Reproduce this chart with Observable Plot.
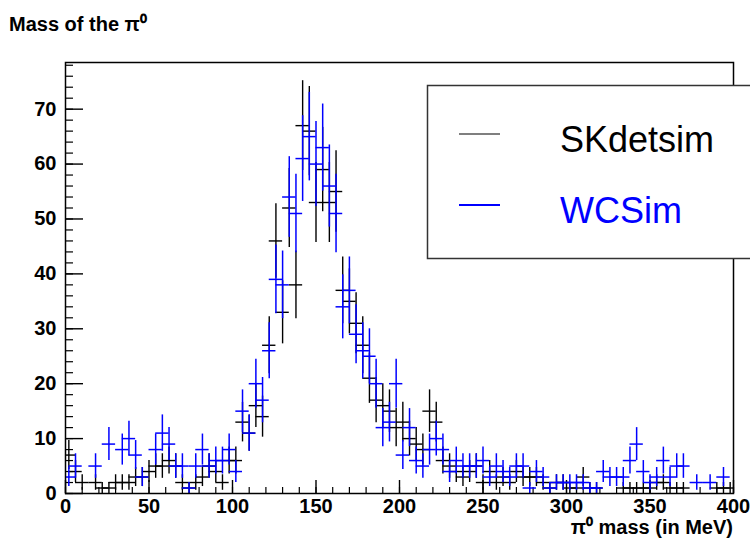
<!DOCTYPE html>
<html><head><meta charset="utf-8">
<script src="https://cdn.jsdelivr.net/npm/d3@7"></script>
<script src="https://cdn.jsdelivr.net/npm/@observablehq/plot@0.6"></script>
<style>body{margin:0;background:#fff;} svg{display:block}</style>
</head><body><div id="chart"></div>
<script>
// ---- data ----
const binWidth = 4;          // MeV per bin, 100 bins 0..400
const errX = 4;              // drawn horizontal error half-width (MeV)
const binLow = d3.range(0, 400, binWidth);
const skdetsim = [7,4,2,0,2,1,1,2,2,2, 3,3,4,5,5,6,5,2,1,2, 3,5,4,2,6,6,13,11,16,14,
  27,46,33,52,38,67,66,53,59,53, 55,37,35,31,27,21,17,16,15,12, 13,10,9,8,15,13,6,5,4,3,
  4,5,2,4,2,3,2,4,3,3, 3,2,1,2,2,1,1,3,1,1, 0,0,0,1,1,1,1,1,2,2, 1,1,1,0,0,0,0,1,1,1];
const wcsim = [3,5,0,0,5,0,9,0,8,10, 7,3,0,8,11,9,5,5,1,5, 8,5,6,6,8,4,15,11,20,17,
  26,39,38,54,51,61,65,60,63,56, 51,34,37,29,26,25,20,12,13,20, 7,12,6,5,8,10,8,4,6,5,
  5,5,6,3,5,4,3,5,5,1, 4,3,1,2,2,2,2,2,1,1, 4,3,3,3,6,9,4,2,3,6, 3,5,5,0,2,0,2,0,3,0];
const seriesNames = ["SKdetsim", "WCSim"];
const seriesColors = ["#000000", "#0000ff"];
const xTicks = [0, 50, 100, 150, 200, 250, 300, 350, 400];
const xMinor = d3.range(0, 401, 10);
const yTicks = [0, 10, 20, 30, 40, 50, 60, 70];
const yMinor = d3.range(0, 79, 2);
const titleText = "Mass of the π⁰";
const xTitle = "π⁰ mass (in MeV)";

function rows(vals) {
  return vals.map((v, i) => {
    const c = binLow[i] + binWidth / 2;
    return {x: c, x1: Math.max(0, c - errX), x2: Math.min(400, c + errX),
      y: v, y1: v - Math.sqrt(v), y2: v + Math.sqrt(v)};
  }).filter(d => d.y > 0);
}
const blackRows = rows(skdetsim), blueRows = rows(wcsim);

const W = 750, H = 541, mL = 65, mR = 17, mT = 62, mB = 48;
const pw = W - mL - mR, ph = H - mT - mB;

const chart = Plot.plot({
  width: W, height: H,
  marginLeft: mL, marginRight: mR, marginTop: mT, marginBottom: mB,
  x: {domain: [0, 400]},
  y: {domain: [0, 78.5]},
  style: {fontFamily: "'Liberation Sans', Arial, sans-serif", background: "white", fontWeight: "bold"},
  marks: [
    Plot.tickY(yMinor, {y: d => d, insetRight: pw - 8, stroke: "#000", strokeWidth: 1.2}),
    Plot.tickY(yTicks, {y: d => d, insetRight: pw - 18, stroke: "#000", strokeWidth: 1.4}),
    Plot.tickX(xMinor, {x: d => d, insetTop: ph - 6, stroke: "#000", strokeWidth: 1.2}),
    Plot.tickX(xTicks, {x: d => d, insetTop: ph - 13, stroke: "#000", strokeWidth: 1.4}),
    Plot.axisY({ticks: yTicks, tickSize: 0, tickPadding: 9, fontSize: 20, label: null}),
    Plot.axisX({ticks: xTicks, tickSize: 0, tickPadding: 5, fontSize: 20, label: null}),
    Plot.ruleX(blackRows, {x: "x", y1: "y1", y2: "y2", stroke: seriesColors[0], strokeWidth: 1.4}),
    Plot.ruleY(blackRows, {y: "y", x1: "x1", x2: "x2", stroke: seriesColors[0], strokeWidth: 1.4}),
    Plot.ruleX(blueRows, {x: "x", y1: "y1", y2: "y2", stroke: seriesColors[1], strokeWidth: 1.5}),
    Plot.ruleY(blueRows, {y: "y", x1: "x1", x2: "x2", stroke: seriesColors[1], strokeWidth: 1.5}),
    Plot.frame({stroke: "#000", strokeWidth: 1.5})
  ]
});
document.getElementById("chart").appendChild(chart);

const svg = d3.select(chart);
svg.append("text").attr("x", 9).attr("y", 31).attr("font-size", 20).attr("font-weight", "bold")
  .attr("text-anchor", "start").attr("fill", "#000").text(titleText);
svg.append("text").attr("x", W - mR).attr("y", 534).attr("text-anchor", "end")
  .attr("font-size", 20).attr("font-weight", "bold").attr("fill", "#000").text(xTitle);

// legend
const lg = svg.append("g");
lg.append("rect").attr("x", 427.5).attr("y", 85.5).attr("width", 340).attr("height", 173)
  .attr("fill", "#fff").attr("stroke", "#333").attr("stroke-width", 1.5);
const ly = [134, 205], ty = [152, 223], lw = [1.2, 2.2];
seriesNames.forEach((name, i) => {
  lg.append("line").attr("x1", 459).attr("x2", 500).attr("y1", ly[i]).attr("y2", ly[i])
    .attr("stroke", seriesColors[i]).attr("stroke-width", lw[i]);
  lg.append("text").attr("x", 560).attr("y", ty[i]).attr("font-size", 36)
    .attr("text-anchor", "start").attr("font-weight", "normal")
    .attr("fill", seriesColors[i]).text(name);
});
</script></body></html>
